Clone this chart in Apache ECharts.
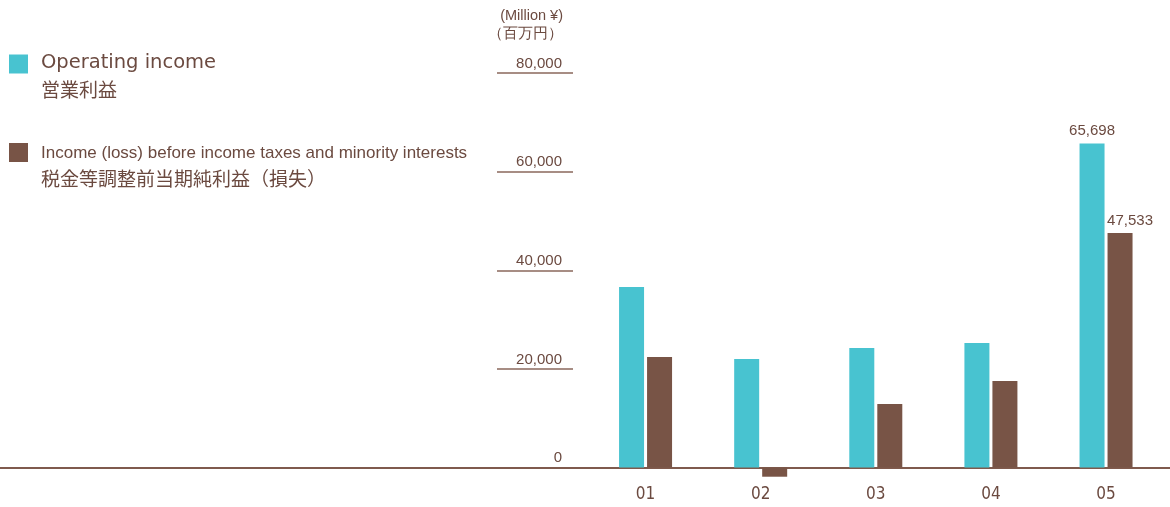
<!DOCTYPE html>
<html>
<head>
<meta charset="utf-8">
<script src="https://cdn.jsdelivr.net/npm/echarts@6/dist/echarts.min.js"></script>
<style>
  html, body { margin: 0; padding: 0; background: #fff; }
  #main { width: 1170px; height: 507px; }
</style>
</head>
<body>
<div id="main"></div>
<script>
// data
var years = ['01', '02', '03', '04', '05'];
var operatingIncome = [36600, 22000, 24250, 25270, 65698];
var pretaxIncome = [22400, -1870, 12890, 17550, 47533];
var yTicks = [0, 20000, 40000, 60000, 80000];
var labelled = [4]; // only the last year carries value labels

var seriesNames = ['Operating income', 'Income (loss) before income taxes and minority interests'];
var seriesNamesJa = ['営業利益', '税金等調整前当期純利益（損失）'];

var teal = '#48c3d0';
var brown = '#785446';
var textColor = '#6b4a40';
var lineColor = '#7f5a4d';

function withLabels(arr) {
  return arr.map(function (v, i) {
    if (labelled.indexOf(i) >= 0) {
      return { value: v, label: { show: true } };
    }
    return v;
  });
}

var gridTop = 73, gridBottom = 39.5;

var option = {
  animation: false,
  title: {
    text: '(Million ¥)\n（百万円）',
    left: 558,
    top: 2,
    textAlign: 'right',
    textStyle: {
      color: textColor,
      fontFamily: 'Liberation Sans',
      fontSize: 14.5,
      fontWeight: 'normal',
      lineHeight: 18
    }
  },
  legend: [
    {
      left: 4, top: 48,
      orient: 'vertical',
      icon: 'rect',
      itemWidth: 19, itemHeight: 19,
      selectedMode: false,
      data: [seriesNames[0]],
      formatter: function () {
        return '{en|' + seriesNames[0] + '}\n{ja|' + seriesNamesJa[0] + '}';
      },
      textStyle: {
        padding: [25, 0, 0, 8],
        rich: {
          en: { fontFamily: 'DejaVu Sans', fontSize: 19.5, color: textColor, lineHeight: 27 },
          ja: { fontFamily: 'Noto Sans CJK JP', fontSize: 19, color: textColor, lineHeight: 27 }
        }
      }
    },
    {
      left: 4, top: 138,
      orient: 'vertical',
      icon: 'rect',
      itemWidth: 19, itemHeight: 19,
      selectedMode: false,
      data: [seriesNames[1]],
      formatter: function () {
        return '{en|' + seriesNames[1] + '}\n{ja|' + seriesNamesJa[1] + '}';
      },
      textStyle: {
        padding: [27, 0, 0, 8],
        rich: {
          en: { fontFamily: 'Liberation Sans Narrow, Liberation Sans', fontSize: 17, color: textColor, lineHeight: 26 },
          ja: { fontFamily: 'Noto Sans CJK JP', fontSize: 19, color: textColor, lineHeight: 26 }
        }
      }
    }
  ],
  grid: [
    { left: 588, right: 6.4, top: gridTop, bottom: gridBottom },
    { left: 497, width: 76, top: gridTop, bottom: gridBottom },
    { left: 0, right: 0, top: gridTop, bottom: gridBottom }
  ],
  xAxis: [
    {
      gridIndex: 0,
      type: 'category',
      data: years,
      axisLine: { show: false },
      axisTick: { show: false },
      axisLabel: {
        margin: 19,
        color: textColor,
        fontFamily: 'DejaVu Sans Condensed, DejaVu Sans',
        fontSize: 17
      }
    },
    { gridIndex: 1, type: 'value', show: false },
    {
      gridIndex: 2,
      type: 'value',
      axisLine: { show: true, lineStyle: { color: lineColor, width: 2 } },
      axisTick: { show: false },
      axisLabel: { show: false },
      splitLine: { show: false }
    }
  ],
  yAxis: [
    { gridIndex: 0, type: 'value', min: 0, max: 80000, interval: 20000, show: false },
    {
      gridIndex: 1,
      type: 'value',
      position: 'right',
      min: yTicks[0], max: yTicks[yTicks.length - 1], interval: 20000,
      axisLine: { show: false },
      axisTick: { show: false },
      splitLine: { show: true, lineStyle: { color: '#8a675b', width: 1.5 } },
      axisLabel: {
        inside: true,
        margin: 11,
        verticalAlign: 'bottom',
        padding: [0, 0, 2, 0],
        color: textColor,
        fontFamily: 'Liberation Sans',
        fontSize: 15,
        formatter: function (v) { return v.toLocaleString('en-US'); }
      }
    },
    { gridIndex: 2, type: 'value', min: 0, max: 80000, show: false }
  ],
  series: [
    {
      name: seriesNames[0],
      type: 'bar',
      xAxisIndex: 0, yAxisIndex: 0,
      data: withLabels(operatingIncome),
      barWidth: 25,
      barGap: '12%',
      clip: false,
      itemStyle: { color: teal },
      label: {
        show: false,
        position: 'top',
        distance: 5,
        color: textColor,
        fontFamily: 'Liberation Sans',
        fontSize: 15,
        formatter: function (p) { return p.value.toLocaleString('en-US'); }
      }
    },
    {
      name: seriesNames[1],
      type: 'bar',
      xAxisIndex: 0, yAxisIndex: 0,
      data: withLabels(pretaxIncome),
      barWidth: 25,
      barGap: '12%',
      clip: false,
      itemStyle: { color: brown },
      label: {
        show: false,
        position: 'top',
        distance: 5,
        offset: [10, 0],
        color: textColor,
        fontFamily: 'Liberation Sans',
        fontSize: 15,
        formatter: function (p) { return p.value.toLocaleString('en-US'); }
      }
    }
  ]
};

var chart = echarts.init(document.getElementById('main'), null, { renderer: 'canvas' });
chart.setOption(option);
</script>
</body>
</html>
